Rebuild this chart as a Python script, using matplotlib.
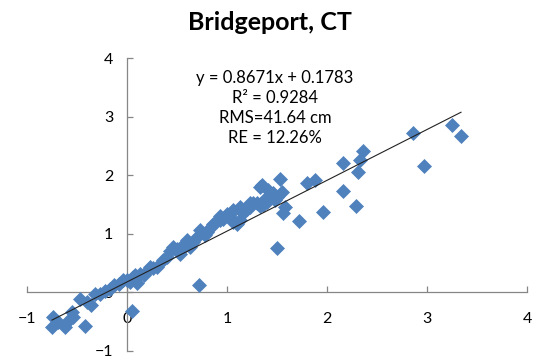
import matplotlib.pyplot as plt
import numpy as np

plt.rcParams['font.family'] = ['Lato', 'DejaVu Sans']

# observed vs predicted (m)
x_vals = [-0.75, -0.74, -0.69, -0.62, -0.59, -0.55, -0.54, -0.47, -0.42, -0.40,
          -0.36, -0.32, -0.27, -0.22, -0.17, -0.13, -0.08, -0.04, 0.00, 0.03,
          0.06, 0.08, 0.05, 0.10, 0.13, 0.17, 0.21, 0.26, 0.30, 0.36,
          0.40, 0.43, 0.46, 0.50, 0.53, 0.55, 0.60, 0.63, 0.66, 0.70,
          0.72, 0.73, 0.78, 0.80, 0.83, 0.86, 0.90, 0.93, 0.96, 1.00,
          1.03, 1.06, 1.10, 1.13, 1.16, 1.20, 1.23, 1.26, 1.30, 1.33,
          1.36, 1.35, 1.38, 1.41, 1.43, 1.46, 1.48, 1.50, 1.50, 1.53,
          1.55, 1.56, 1.58, 1.72, 1.80, 1.88, 1.96, 2.16, 2.16, 2.29,
          2.31, 2.33, 2.36, 2.86, 2.97, 3.25, 3.34,
          1.03, 1.13, 1.23, 0.93, 1.40, 1.33, 0.56, 0.23, 1.06, 1.46]
y_vals = [-0.59, -0.42, -0.51, -0.59, -0.48, -0.34, -0.42, -0.12, -0.57, -0.17,
          -0.22, -0.02, -0.03, 0.02, 0.06, 0.13, 0.14, 0.22, 0.21, 0.18,
          0.26, 0.29, -0.31, 0.16, 0.32, 0.30, 0.38, 0.42, 0.43, 0.55,
          0.60, 0.70, 0.77, 0.74, 0.66, 0.80, 0.89, 0.78, 0.86, 0.95,
          0.13, 1.06, 0.98, 1.03, 1.10, 1.17, 1.22, 1.30, 1.25, 1.33,
          1.28, 1.40, 1.17, 1.24, 1.35, 1.42, 1.46, 1.52, 1.52, 1.48,
          1.49, 1.83, 1.60, 1.74, 1.62, 1.68, 1.58, 0.76, 1.62, 1.93,
          1.71, 1.35, 1.46, 1.22, 1.86, 1.91, 1.38, 2.20, 1.73, 1.47,
          2.05, 2.26, 2.41, 2.72, 2.15, 2.86, 2.67,
          1.33, 1.46, 1.52, 1.23, 1.55, 1.80, 0.75, 0.43, 1.20, 1.69]

slope = 0.8671
intercept = 0.1783
stats_lines = ['y = 0.8671x + 0.1783', 'R\u00b2 = 0.9284',
               'RMS=41.64 cm', 'RE = 12.26%']

fig = plt.figure(figsize=(5.4, 3.6), dpi=100)
ax = fig.add_axes([27 / 540, 9 / 360, 500 / 540, 293 / 360])

ax.plot(x_vals, y_vals, 'D', color='#4F81BD', markersize=7.2,
        markeredgewidth=0.5, markeredgecolor='#4F81BD', zorder=3)

fit_x = np.array([min(x_vals), max(x_vals)])
ax.plot(fit_x, slope * fit_x + intercept, color='#222222', linewidth=0.8, zorder=4)

ax.set_xlim(-1, 4)
ax.set_ylim(-1, 4)
ax.set_xticks(range(-1, 5))
ax.set_yticks(range(-1, 5))

# axes cross at the origin, Excel style
ax.spines['left'].set_position(('data', 0))
ax.spines['bottom'].set_position(('data', 0))
ax.spines['right'].set_visible(False)
ax.spines['top'].set_visible(False)
for s in ('left', 'bottom'):
    ax.spines[s].set_color('#868686')
    ax.spines[s].set_linewidth(0.9)

ax.tick_params(axis='both', direction='in', length=4, width=0.9,
               color='#868686', labelsize=11.5, labelcolor='black')
ax.tick_params(axis='x', pad=14)
ax.tick_params(axis='y', pad=10)
for lab in ax.get_xticklabels() + ax.get_yticklabels():
    lab.set_clip_on(False)

fig.text(0.5, 1 - 22 / 360, 'Bridgeport, CT', ha='center', va='center',
         fontsize=18, fontweight='bold')
fig.text(275 / 540, 1 - 108 / 360, '\n'.join(stats_lines), ha='center',
         va='center', multialignment='center', fontsize=12, linespacing=1.3)

fig.savefig('out.png', dpi=100)
